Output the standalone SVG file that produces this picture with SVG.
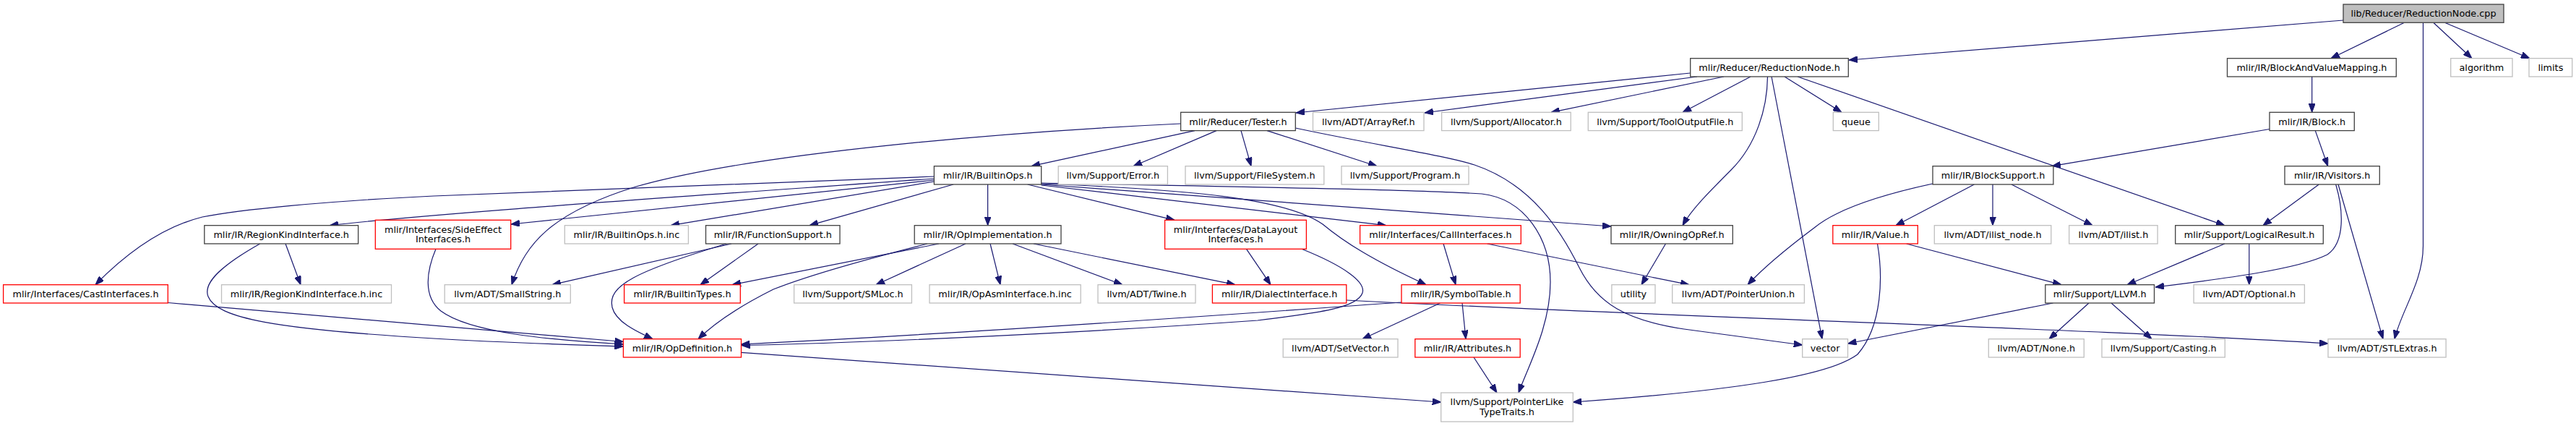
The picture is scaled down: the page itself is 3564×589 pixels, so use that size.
<svg xmlns="http://www.w3.org/2000/svg" width="3564" height="589" viewBox="0 0 3564 589">
<defs>
<marker id="ah" markerWidth="12" markerHeight="9" refX="12" refY="4.5" orient="auto" markerUnits="userSpaceOnUse">
<path d="M0,0 L12,4.5 L0,9 z" fill="#191970" stroke="#191970" stroke-width="1"/>
</marker>
</defs>
<style>
text{font-family:"DejaVu Sans","Liberation Sans",sans-serif;font-size:12.8px;fill:#000;text-anchor:middle}
rect{stroke-width:1.3}
.d{fill:#fff;stroke:#404040}
.r{fill:#fff;stroke:#ff0000}
.g{fill:#fff;stroke:#bfbfbf}
.root{fill:#bfbfbf;stroke:#404040}
#edges path{fill:none;stroke:#191970;stroke-width:1.2;marker-end:url(#ah)}
</style>
<rect width="3564" height="589" fill="#fff"/>
<g id="edges">
<path d="M3242,28 L2558,83"/>
<path d="M3326,31.5 L3225,80.7"/>
<path d="M3352.5,31.5 L3352.5,340 C3352.5,390 3322,430 3313,468.7"/>
<path d="M3367,31.5 L3420,80.7"/>
<path d="M3383,31.5 L3500,80.7"/>
<path d="M3198.7,106 L3198.7,155.3"/>
<path d="M2338.7,101 L1793,156"/>
<path d="M2348,106 L1971,156"/>
<path d="M2385,106 L2146,155.3"/>
<path d="M2422,106 L2328,155.3"/>
<path d="M2445.5,106 C2445,150 2430,200 2395,235 C2365,265 2340,290 2328,311.7"/>
<path d="M2451,106 L2521,468.7"/>
<path d="M2469,106 L2548,155.3"/>
<path d="M2487,106 L3078,311.7"/>
<path d="M1653,180.6 L1427,229.7"/>
<path d="M1683,180.6 L1568,229.7"/>
<path d="M1717,180.6 L1731,229.7"/>
<path d="M1753,180.6 L1905,229.7"/>
<path d="M1633.6,171 C1400,182 1050,210 880,258 C760,295 725,340 708,393.7"/>
<path d="M1792.3,177 C1900,200 2000,215 2040,228 C2120,255 2160,320 2185,370 C2210,420 2250,443 2330,455 L2493.7,477"/>
<path d="M1366.6,255 L1366.6,311.7"/>
<path d="M1421.7,255 L1625,304.3"/>
<path d="M1292.4,244 L600,271 C450,278 330,290 280,300 C220,315 170,355 132,393.7"/>
<path d="M1292.4,247 C900,275 600,295 456,311.7"/>
<path d="M1292.4,249 L707,310"/>
<path d="M1292.4,251 L928,311.7"/>
<path d="M1319,255 L1120,311.7"/>
<path d="M1440.7,253 C1700,258 1950,262 2050,268 C2110,275 2145,330 2145,390 C2145,450 2115,505 2101,543"/>
<path d="M1440.7,255 L2229,313"/>
<path d="M1440.7,256 L1918,311.7"/>
<path d="M1440.7,254 C1650,262 1780,275 1830,310 C1860,335 1900,360 1973,393.7"/>
<path d="M1299,337 L1013,393.7"/>
<path d="M1283,337 C1200,358 1120,380 1070,400 C1020,425 985,450 966,468.7"/>
<path d="M1336,337 L1212,393.7"/>
<path d="M1370,337 L1384,393.7"/>
<path d="M1401,337 L1553,393.7"/>
<path d="M1430,337 L1709,393.7"/>
<path d="M1012,337 L764,393.7"/>
<path d="M1005,337 C880,375 840,395 847,425 C852,445 880,458 903,468.7"/>
<path d="M1049,337 L969,393.7"/>
<path d="M395,337 L416,393.7"/>
<path d="M359.7,337 C310,365 280,390 288,410 C300,440 380,455 600,468 C700,474 800,477 862.4,479"/>
<path d="M603,344.3 C590,375 585,410 610,430 C650,460 760,470 862.4,476"/>
<path d="M232.3,418.5 L862.4,472.5"/>
<path d="M1724.5,344.3 L1758,393.7"/>
<path d="M1801,344.3 C1860,368 1890,390 1885,405 C1878,425 1830,432 1740,443 C1500,460 1200,474 1025.5,477.5"/>
<path d="M1939,418 C1850,424 1400,458 1025.5,476"/>
<path d="M1997,337 L2014,393.7"/>
<path d="M2057.6,337 L2337,393.7"/>
<path d="M2304.5,337 L2271,393.7"/>
<path d="M1992.6,419 L1885,468.7"/>
<path d="M2023,419 L2028,468.7"/>
<path d="M2039,494 L2071,543"/>
<path d="M1025.5,487.3 L1993.7,556"/>
<path d="M1862.8,415 C2300,438 2900,455 3221,475"/>
<path d="M2637.6,337 L2852,393.7"/>
<path d="M2597.5,337 C2605,380 2605,450 2570,490 C2530,520 2400,540 2176.3,556"/>
<path d="M2731.4,255 L2623,311.7"/>
<path d="M2757,255 L2757,311.7"/>
<path d="M2783,255 L2895,311.7"/>
<path d="M2674,254 C2600,270 2540,290 2510,315 C2470,345 2440,370 2418,393.7"/>
<path d="M3140,178.5 L2839,229.7"/>
<path d="M3203.3,180.6 L3220.7,229.7"/>
<path d="M3208.3,255 L3131,311.7"/>
<path d="M3231.7,255 C3242,290 3245,335 3220,352 C3180,372 3080,385 2982,397"/>
<path d="M3235,255 L3297,468.7"/>
<path d="M3078,337 L2943,393.7"/>
<path d="M3111.8,337 L3111.8,393.7"/>
<path d="M2840.5,419 L2556.5,475"/>
<path d="M2890,419 L2835,468.7"/>
<path d="M2921,419 L2977,468.7"/>
</g>
<g id="n_cpp"><rect class="root" x="3242" y="6" width="222" height="25.3"/><text x="3353" y="23.3">lib/Reducer/ReductionNode.cpp</text></g>
<g id="n_rnh"><rect class="d" x="2338.7" y="80.7" width="218.6" height="25.3"/><text x="2448" y="97.9">mlir/Reducer/ReductionNode.h</text></g>
<g id="n_bavm"><rect class="d" x="3081.5" y="80.7" width="233.8" height="25.3"/><text x="3198.4" y="97.9">mlir/IR/BlockAndValueMapping.h</text></g>
<g id="n_algorithm"><rect class="g" x="3390.7" y="80.7" width="85.3" height="25.3"/><text x="3433.4" y="97.9">algorithm</text></g>
<g id="n_limits"><rect class="g" x="3499" y="80.7" width="59.7" height="25.3"/><text x="3528.9" y="97.9">limits</text></g>
<g id="n_tester"><rect class="d" x="1633.6" y="155.3" width="158.7" height="25.3"/><text x="1713" y="172.5">mlir/Reducer/Tester.h</text></g>
<g id="n_arrayref"><rect class="g" x="1816.5" y="155.3" width="153.5" height="25.3"/><text x="1893.3" y="172.5">llvm/ADT/ArrayRef.h</text></g>
<g id="n_allocator"><rect class="g" x="1994.6" y="155.3" width="178.6" height="25.3"/><text x="2083.9" y="172.5">llvm/Support/Allocator.h</text></g>
<g id="n_tooloutput"><rect class="g" x="2197.3" y="155.3" width="213" height="25.3"/><text x="2303.8" y="172.5">llvm/Support/ToolOutputFile.h</text></g>
<g id="n_queue"><rect class="g" x="2536.3" y="155.3" width="63" height="25.3"/><text x="2567.8" y="172.5">queue</text></g>
<g id="n_block"><rect class="d" x="3140" y="155.3" width="117.3" height="25.3"/><text x="3198.7" y="172.5">mlir/IR/Block.h</text></g>
<g id="n_builtinops"><rect class="d" x="1292.4" y="229.7" width="148.3" height="25.3"/><text x="1366.6" y="246.9">mlir/IR/BuiltinOps.h</text></g>
<g id="n_error"><rect class="g" x="1464.2" y="229.7" width="151.2" height="25.3"/><text x="1539.8" y="246.9">llvm/Support/Error.h</text></g>
<g id="n_filesystem"><rect class="g" x="1640" y="229.7" width="191.8" height="25.3"/><text x="1735.9" y="246.9">llvm/Support/FileSystem.h</text></g>
<g id="n_program"><rect class="g" x="1856" y="229.7" width="176" height="25.3"/><text x="1944" y="246.9">llvm/Support/Program.h</text></g>
<g id="n_blocksupport"><rect class="d" x="2674" y="229.7" width="166.9" height="25.3"/><text x="2757.5" y="246.9">mlir/IR/BlockSupport.h</text></g>
<g id="n_visitors"><rect class="d" x="3161" y="229.7" width="131.3" height="25.3"/><text x="3226.7" y="246.9">mlir/IR/Visitors.h</text></g>
<g id="n_regionkind"><rect class="d" x="282.8" y="311.7" width="212.8" height="25.3"/><text x="389.2" y="328.9">mlir/IR/RegionKindInterface.h</text></g>
<g id="n_sideeffect"><rect class="r" x="519.3" y="304.3" width="187.4" height="40"/><text x="613" y="321.5">mlir/Interfaces/SideEffect</text><text x="613" y="335">Interfaces.h</text></g>
<g id="n_builtinopsinc"><rect class="g" x="781.3" y="311.7" width="171.1" height="25.3"/><text x="866.9" y="328.9">mlir/IR/BuiltinOps.h.inc</text></g>
<g id="n_functionsupport"><rect class="d" x="976.5" y="311.7" width="185.5" height="25.3"/><text x="1069.3" y="328.9">mlir/IR/FunctionSupport.h</text></g>
<g id="n_opimpl"><rect class="d" x="1265.2" y="311.7" width="202.8" height="25.3"/><text x="1366.6" y="328.9">mlir/IR/OpImplementation.h</text></g>
<g id="n_datalayout"><rect class="r" x="1611.6" y="304.3" width="195.8" height="40"/><text x="1709.5" y="321.5">mlir/Interfaces/DataLayout</text><text x="1709.5" y="335">Interfaces.h</text></g>
<g id="n_callinterfaces"><rect class="r" x="1881.6" y="311.7" width="222.7" height="25.3"/><text x="1993" y="328.9">mlir/Interfaces/CallInterfaces.h</text></g>
<g id="n_owningopref"><rect class="d" x="2229" y="311.7" width="168.3" height="25.3"/><text x="2313.2" y="328.9">mlir/IR/OwningOpRef.h</text></g>
<g id="n_value"><rect class="r" x="2535.8" y="311.7" width="117.5" height="25.3"/><text x="2594.6" y="328.9">mlir/IR/Value.h</text></g>
<g id="n_ilistnode"><rect class="g" x="2676.3" y="311.7" width="161.5" height="25.3"/><text x="2757" y="328.9">llvm/ADT/ilist_node.h</text></g>
<g id="n_ilist"><rect class="g" x="2862.7" y="311.7" width="122.4" height="25.3"/><text x="2923.9" y="328.9">llvm/ADT/ilist.h</text></g>
<g id="n_logicalresult"><rect class="d" x="3009.7" y="311.7" width="204.6" height="25.3"/><text x="3112" y="328.9">mlir/Support/LogicalResult.h</text></g>
<g id="n_castinterfaces"><rect class="r" x="4.6" y="393.7" width="227.7" height="25.3"/><text x="118.5" y="410.9">mlir/Interfaces/CastInterfaces.h</text></g>
<g id="n_regionkindinc"><rect class="g" x="306.5" y="393.7" width="235" height="25.3"/><text x="424" y="410.9">mlir/IR/RegionKindInterface.h.inc</text></g>
<g id="n_smallstring"><rect class="g" x="615.2" y="393.7" width="174.1" height="25.3"/><text x="702.3" y="410.9">llvm/ADT/SmallString.h</text></g>
<g id="n_builtintypes"><rect class="r" x="863.6" y="393.7" width="160.7" height="25.3"/><text x="944" y="410.9">mlir/IR/BuiltinTypes.h</text></g>
<g id="n_smloc"><rect class="g" x="1098.6" y="393.7" width="162.8" height="25.3"/><text x="1180" y="410.9">llvm/Support/SMLoc.h</text></g>
<g id="n_opasm"><rect class="g" x="1286" y="393.7" width="209.2" height="25.3"/><text x="1390.6" y="410.9">mlir/IR/OpAsmInterface.h.inc</text></g>
<g id="n_twine"><rect class="g" x="1519" y="393.7" width="135" height="25.3"/><text x="1586.5" y="410.9">llvm/ADT/Twine.h</text></g>
<g id="n_dialectinterface"><rect class="r" x="1677.4" y="393.7" width="185.4" height="25.3"/><text x="1770.1" y="410.9">mlir/IR/DialectInterface.h</text></g>
<g id="n_symboltable"><rect class="r" x="1939" y="393.7" width="164.2" height="25.3"/><text x="2021.1" y="410.9">mlir/IR/SymbolTable.h</text></g>
<g id="n_utility"><rect class="g" x="2229.9" y="393.7" width="60.1" height="25.3"/><text x="2260" y="410.9">utility</text></g>
<g id="n_pointerunion"><rect class="g" x="2313.7" y="393.7" width="182.7" height="25.3"/><text x="2405" y="410.9">llvm/ADT/PointerUnion.h</text></g>
<g id="n_llvm"><rect class="d" x="2829.8" y="393.7" width="150.7" height="25.3"/><text x="2905.2" y="410.9">mlir/Support/LLVM.h</text></g>
<g id="n_optional"><rect class="g" x="3035.1" y="393.7" width="153.3" height="25.3"/><text x="3111.8" y="410.9">llvm/ADT/Optional.h</text></g>
<g id="n_opdefinition"><rect class="r" x="862.4" y="468.7" width="163.1" height="25.3"/><text x="944" y="485.9">mlir/IR/OpDefinition.h</text></g>
<g id="n_setvector"><rect class="g" x="1775.2" y="468.7" width="158.8" height="25.3"/><text x="1854.6" y="485.9">llvm/ADT/SetVector.h</text></g>
<g id="n_attributes"><rect class="r" x="1957.8" y="468.7" width="145.4" height="25.3"/><text x="2030.5" y="485.9">mlir/IR/Attributes.h</text></g>
<g id="n_vector"><rect class="g" x="2493.7" y="468.7" width="62.8" height="25.3"/><text x="2525.1" y="485.9">vector</text></g>
<g id="n_none"><rect class="g" x="2751.3" y="468.7" width="132" height="25.3"/><text x="2817.3" y="485.9">llvm/ADT/None.h</text></g>
<g id="n_casting"><rect class="g" x="2908" y="468.7" width="170.3" height="25.3"/><text x="2993.2" y="485.9">llvm/Support/Casting.h</text></g>
<g id="n_stlextras"><rect class="g" x="3221" y="468.7" width="163.1" height="25.3"/><text x="3302.6" y="485.9">llvm/ADT/STLExtras.h</text></g>
<g id="n_pointerlike"><rect class="g" x="1993.7" y="543" width="182.6" height="40"/><text x="2085" y="560">llvm/Support/PointerLike</text><text x="2085" y="573.5">TypeTraits.h</text></g>
</svg>
